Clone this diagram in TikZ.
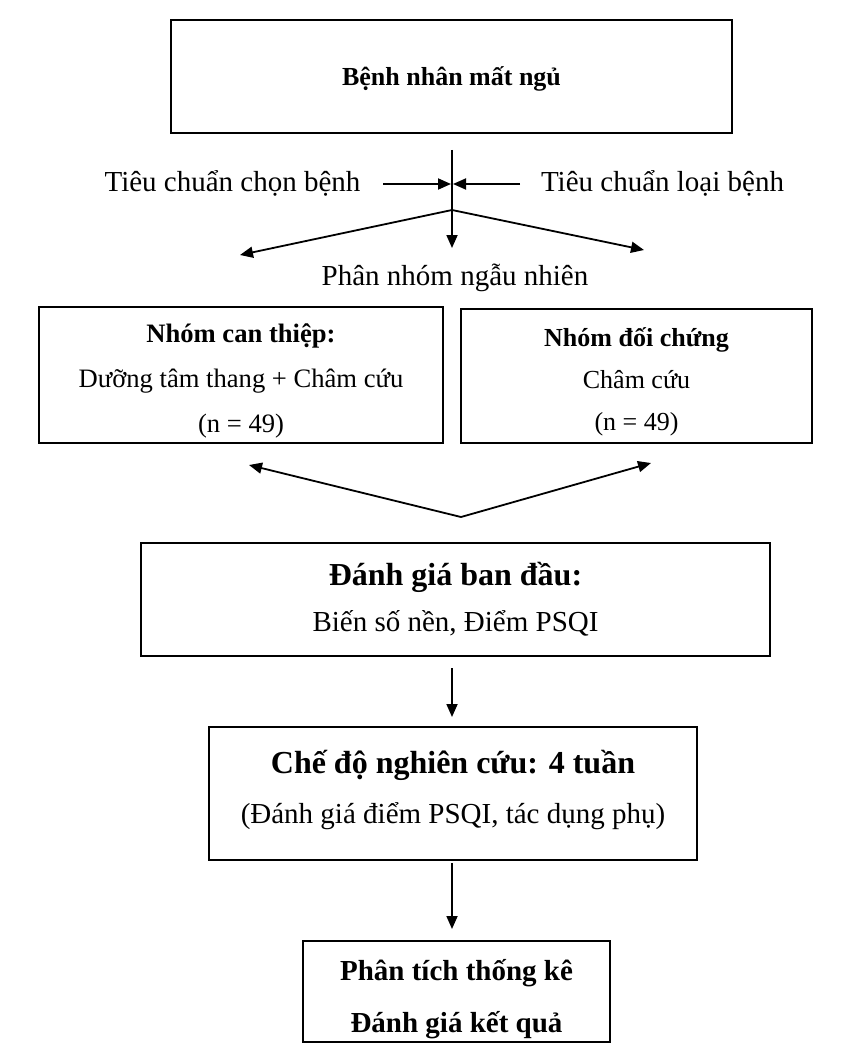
\documentclass[tikz,border=0pt]{standalone}
\usepackage{fontspec}
\setmainfont{Liberation Serif}
\usetikzlibrary{arrows.meta}
\tikzset{box/.style={draw, line width=1pt, align=center, inner sep=0pt}}
\tikzset{arr/.style={-{Triangle[length=6.5pt, width=5.5pt]}, line width=0.9pt}}
\tikzset{lbl/.style={inner sep=0pt, font=\fontsize{14.5}{17}\selectfont}}
\newcommand\topstr[1]{\rule{0pt}{#1pt}}
\newcommand\botstr[1]{\rule[-#1pt]{0pt}{0pt}}
\newcommand\headsz{\fontsize{16}{19}\selectfont\bfseries}

\begin{document}
\begin{tikzpicture}[x=0.5pt, y=-0.5pt]
            \useasboundingbox (0,0) rectangle (864,1064);
            % boxes
            \node[box, minimum width=280.5pt, minimum height=56.5pt, font=\fontsize{13}{16}\selectfont\bfseries] (patient) at (451.5,76.5) {\topstr{12}Bệnh nhân mất ngủ};
            \node[box, minimum width=202pt, minimum height=68pt, font=\fontsize{13.3}{22.5}\selectfont] (treat) at (241,375) {\topstr{16}\textbf{Nhóm can thiệp:}\\Dưỡng tâm thang + Châm cứu\\(n = 49)\botstr{4}};
            \node[box, minimum width=175.5pt, minimum height=67pt, font=\fontsize{13}{21}\selectfont] (ctrl) at (636.5,376) {\topstr{17}\textbf{Nhóm đối chứng}\\Châm cứu\\(n = 49)\botstr{5}};
            \node[box, minimum width=314.5pt, minimum height=56.5pt, font=\fontsize{14.5}{23}\selectfont] (base) at (455.5,599.5) {{\headsz Đánh giá ban đầu:}\\Biến số nền, Điểm PSQI};
            \node[box, minimum width=244pt, minimum height=66.5pt, font=\fontsize{14.5}{25}\selectfont] (study) at (453,793.5) {\topstr{18}{\headsz Chế độ nghiên cứu: 4 tuần}\\(Đánh giá điểm PSQI, tác dụng phụ)\botstr{13}};
            \node[box, minimum width=153.5pt, minimum height=50.5pt, font=\fontsize{14.5}{26}\selectfont\bfseries] (stat) at (456.5,991.5) {\topstr{19}Phân tích thống kê\\Đánh giá kết quả\botstr{4.5}};
            % labels
            \node[lbl] (incl) at (232.5,183) {Tiêu chuẩn chọn bệnh};
            \node[lbl] (excl) at (662.5,183) {Tiêu chuẩn loại bệnh};
            \node[lbl] (rand) at (455,278) {Phân nhóm ngẫu nhiên};
            % connectors
            \coordinate (top) at (452,150);
            \coordinate (split) at (452,210);
            \coordinate (inA) at (383,184);
            \coordinate (inB) at (520,184);
            \coordinate (join) at (461,517);
            \draw[line width=0.9pt] (top) -- (split);
            \draw[arr] (inA) -- (451,184);
            \draw[arr] (inB) -- (453,184);
            \draw[arr] (split) -- (452,248);
            \draw[arr] (split) -- (240,255);
            \draw[arr] (split) -- (644,250);
            \draw[arr] (join) -- (249,465);
            \draw[arr] (join) -- (651,463);
            \draw[arr] (base.south -| 452,0) ++(0,11) -- (452,717);
            \draw[arr] (study.south -| 452,0) ++(0,2) -- (452,929);
        \end{tikzpicture}
\end{document}
